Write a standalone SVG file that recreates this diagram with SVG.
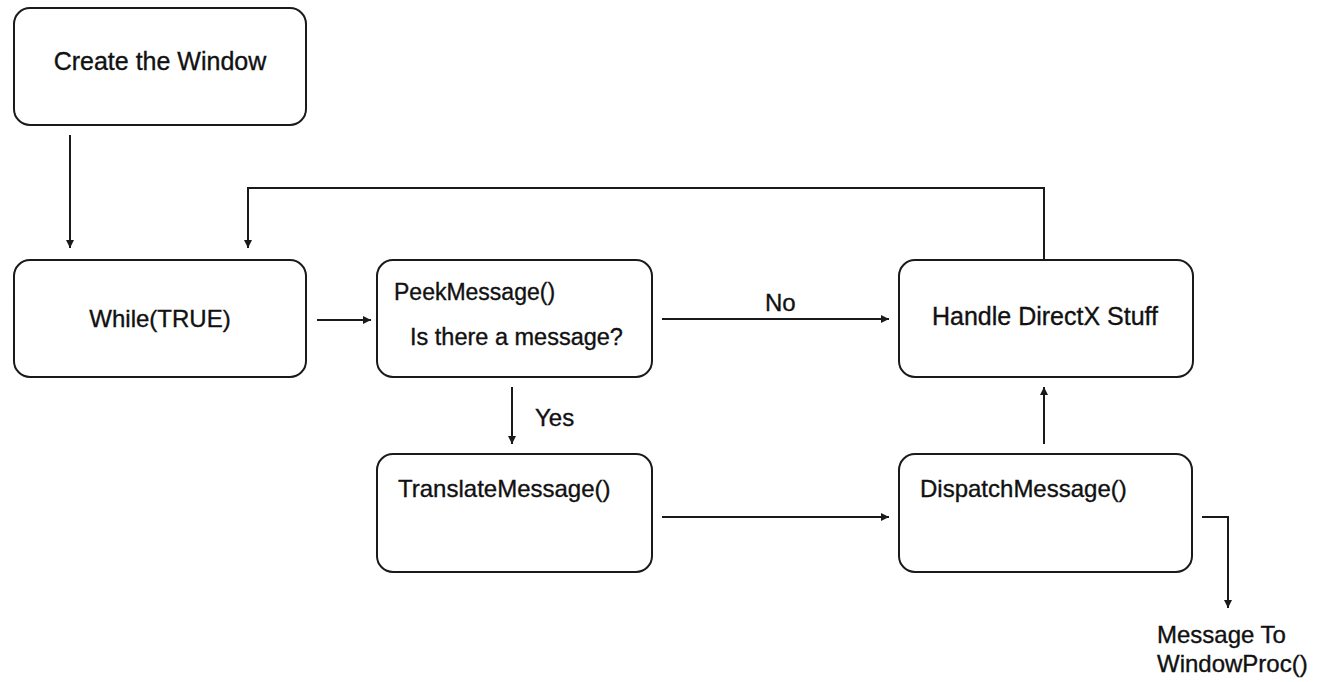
<svg xmlns="http://www.w3.org/2000/svg" width="1324" height="682" viewBox="0 0 1324 682">
<style>
.box{fill:#fff;stroke:#1a1a1a;stroke-width:2}
.t{font-family:"Liberation Sans",Arial,sans-serif;font-size:24px;fill:#111;stroke:#111;stroke-width:0.35}
.c{fill:none;stroke:#1a1a1a;stroke-width:2}
</style>
<defs>
<marker id="ah" viewBox="0 0 10 10" refX="10" refY="5" markerWidth="9" markerHeight="8" markerUnits="userSpaceOnUse" orient="auto">
<path d="M0,0 L10,5 L0,10 z" fill="#1a1a1a"/>
</marker>
</defs>
<rect width="1324" height="682" fill="#fff"/>
<g id="connectors">
<path class="c" d="M70,135 V248" marker-end="url(#ah)"/>
<path class="c" d="M1044,259 V188 H248 V248" marker-end="url(#ah)"/>
<path class="c" d="M317,320 H371" marker-end="url(#ah)"/>
<path class="c" d="M662,319 H889" marker-end="url(#ah)"/>
<path class="c" d="M512,387 V444" marker-end="url(#ah)"/>
<path class="c" d="M662,517 H889" marker-end="url(#ah)"/>
<path class="c" d="M1044,444 V387" marker-end="url(#ah)"/>
<path class="c" d="M1202,517 H1228 V608" marker-end="url(#ah)"/>
<text class="t" x="765" y="311">No</text>
<text class="t" x="535" y="426">Yes</text>
<text class="t" x="1157" y="643">Message To</text>
<text class="t" x="1157" y="672">WindowProc()</text>
</g>
<g id="create">
<rect class="box" x="14" y="8" width="292" height="117" rx="16"/>
<text class="t" x="160" y="70" text-anchor="middle" style="font-size:25px">Create the Window</text>
</g>
<g id="while">
<rect class="box" x="14" y="260" width="292" height="117" rx="16"/>
<text class="t" x="160" y="327" text-anchor="middle">While(TRUE)</text>
</g>
<g id="peek">
<rect class="box" x="377" y="260" width="275" height="117" rx="16"/>
<text class="t" x="394" y="300" style="font-size:23px">PeekMessage()</text>
<text class="t" x="410" y="345" style="font-size:23.5px">Is there a message?</text>
</g>
<g id="handle">
<rect class="box" x="899" y="260" width="294" height="117" rx="16"/>
<text class="t" x="1045" y="325" text-anchor="middle" style="font-size:25px">Handle DirectX Stuff</text>
</g>
<g id="translate">
<rect class="box" x="377" y="454" width="275" height="118" rx="16"/>
<text class="t" x="398" y="497">TranslateMessage()</text>
</g>
<g id="dispatch">
<rect class="box" x="899" y="454" width="293" height="118" rx="16"/>
<text class="t" x="920" y="497">DispatchMessage()</text>
</g>
</svg>
